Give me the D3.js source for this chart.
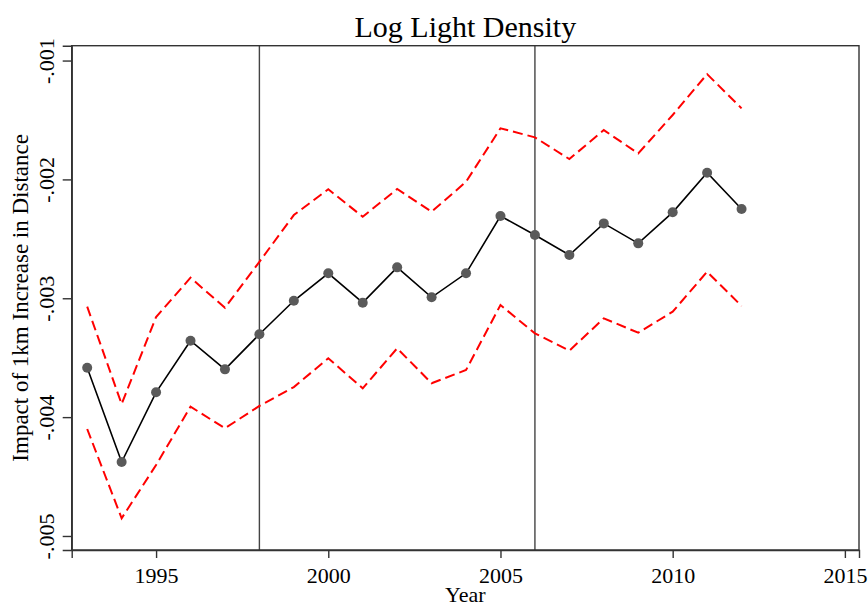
<!DOCTYPE html>
<html>
<head>
<meta charset="utf-8">
<script src="https://cdn.jsdelivr.net/npm/d3@7"></script>
<style>
  html, body { margin: 0; padding: 0; background: #fff; }
  svg { display: block; }
  svg text { font-family: "Liberation Serif", "Times New Roman", serif !important; fill: #000; }
</style>
</head>
<body>
<svg id="chart" width="868" height="609"></svg>
<script>
const years = [1993,1994,1995,1996,1997,1998,1999,2000,2001,2002,2003,2004,2005,2006,2007,2008,2009,2010,2011,2012];
const coef  = [-0.003584,-0.004378,-0.003791,-0.003357,-0.003598,-0.003303,-0.003021,-0.00279,-0.003037,-0.00274,-0.002992,-0.00279,-0.002308,-0.002468,-0.002636,-0.00237,-0.002538,-0.002277,-0.001944,-0.002249];
const upper = [-0.003071,-0.00389,-0.003158,-0.002827,-0.00308,-0.002693,-0.0023,-0.002083,-0.002314,-0.002081,-0.002272,-0.00202,-0.00157,-0.001646,-0.001829,-0.001585,-0.001781,-0.001458,-0.001114,-0.001402];
const lower = [-0.0041,-0.004851,-0.004403,-0.003912,-0.004094,-0.003906,-0.003747,-0.003505,-0.003758,-0.003421,-0.003715,-0.003604,-0.003057,-0.003295,-0.003441,-0.003169,-0.00329,-0.003113,-0.002777,-0.003065];
const xTicks = [1995,2000,2005,2010,2015];
const yTicks = [-0.001,-0.002,-0.003,-0.004,-0.005];
const yTickLabels = ["-.001","-.002","-.003","-.004","-.005"];
const refYears = [1998,2006];
const title = "Log Light Density";
const xTitle = "Year";
const yTitle = "Impact of 1km Increase in Distance";

const FONT = '"Liberation Serif", "Times New Roman", serif';
const svg = d3.select("#chart");
const L = 71.7, R = 859, T = 45.7, B = 550;
const x = d3.scaleLinear().domain([1992.55, 2015.41]).range([L, R]);
const y = d3.scaleLinear().domain([-0.005118, -0.000875]).range([B, T]);
const axisColor = "#333";

// reference lines
svg.selectAll("line.ref").data(refYears).join("line")
  .attr("class","ref")
  .attr("x1", d => x(d)).attr("x2", d => x(d))
  .attr("y1", T).attr("y2", B)
  .attr("stroke", "#444").attr("stroke-width", 1.4);

// CI lines
const lineGen = vals => d3.line().x((d,i) => x(years[i])).y(d => y(d))(vals);
[upper, lower].forEach(v => {
  svg.append("path").attr("d", lineGen(v))
    .attr("fill","none").attr("stroke","#ff0000").attr("stroke-width",2)
    .attr("stroke-dasharray","10,5");
});

// coefficient line
svg.append("path").attr("d", lineGen(coef))
  .attr("fill","none").attr("stroke","#000").attr("stroke-width",1.6);

svg.selectAll("circle.pt").data(coef).join("circle")
  .attr("class","pt")
  .attr("cx",(d,i)=>x(years[i])).attr("cy",d=>y(d)).attr("r",5)
  .attr("fill","#5a5a5a");

// frame
svg.append("rect").attr("x",L).attr("y",T).attr("width",R-L).attr("height",B-T)
  .attr("fill","none").attr("stroke",axisColor).attr("stroke-width",1.4);

// x axis
const xAxis = d3.axisBottom(x).tickValues(xTicks).tickSize(8).tickPadding(9).tickFormat(d3.format("d"));
const gx = svg.append("g").attr("transform",`translate(0,${B})`).call(xAxis)
  .attr("font-family", FONT).attr("font-size", 22);
gx.select(".domain").attr("stroke",axisColor).attr("stroke-width",1.4);
gx.selectAll(".tick line").attr("stroke",axisColor).attr("stroke-width",1.4);
gx.selectAll(".tick text").attr("fill","#000");

// y axis
const yAxis = d3.axisLeft(y).tickValues(yTicks).tickSize(9).tickFormat((d,i)=>yTickLabels[i]);
const gy = svg.append("g").attr("transform",`translate(${L},0)`).call(yAxis)
  .attr("font-family", FONT).attr("font-size", 22);
gy.select(".domain").attr("stroke",axisColor).attr("stroke-width",1.4);
gy.selectAll(".tick line").attr("stroke",axisColor).attr("stroke-width",1.4);
gy.selectAll(".tick text")
  .attr("x",null).attr("dy",null)
  .attr("transform","translate(-18,0) rotate(-90)")
  .attr("text-anchor","middle")
  .attr("y",0)
  .attr("fill","#000");

// titles
svg.append("text").attr("x",(L+R)/2).attr("y",37).attr("text-anchor","middle")
  .attr("font-family", FONT).style("font-size","30px").text(title);
svg.append("text").attr("x",(L+R)/2).attr("y",602).attr("text-anchor","middle")
  .attr("font-family", FONT).style("font-size","22px").text(xTitle);
svg.append("text").attr("transform",`translate(28,${(T+B)/2}) rotate(-90)`).attr("text-anchor","middle")
  .attr("font-family", FONT).style("font-size","23px").text(yTitle);
</script>
</body>
</html>
